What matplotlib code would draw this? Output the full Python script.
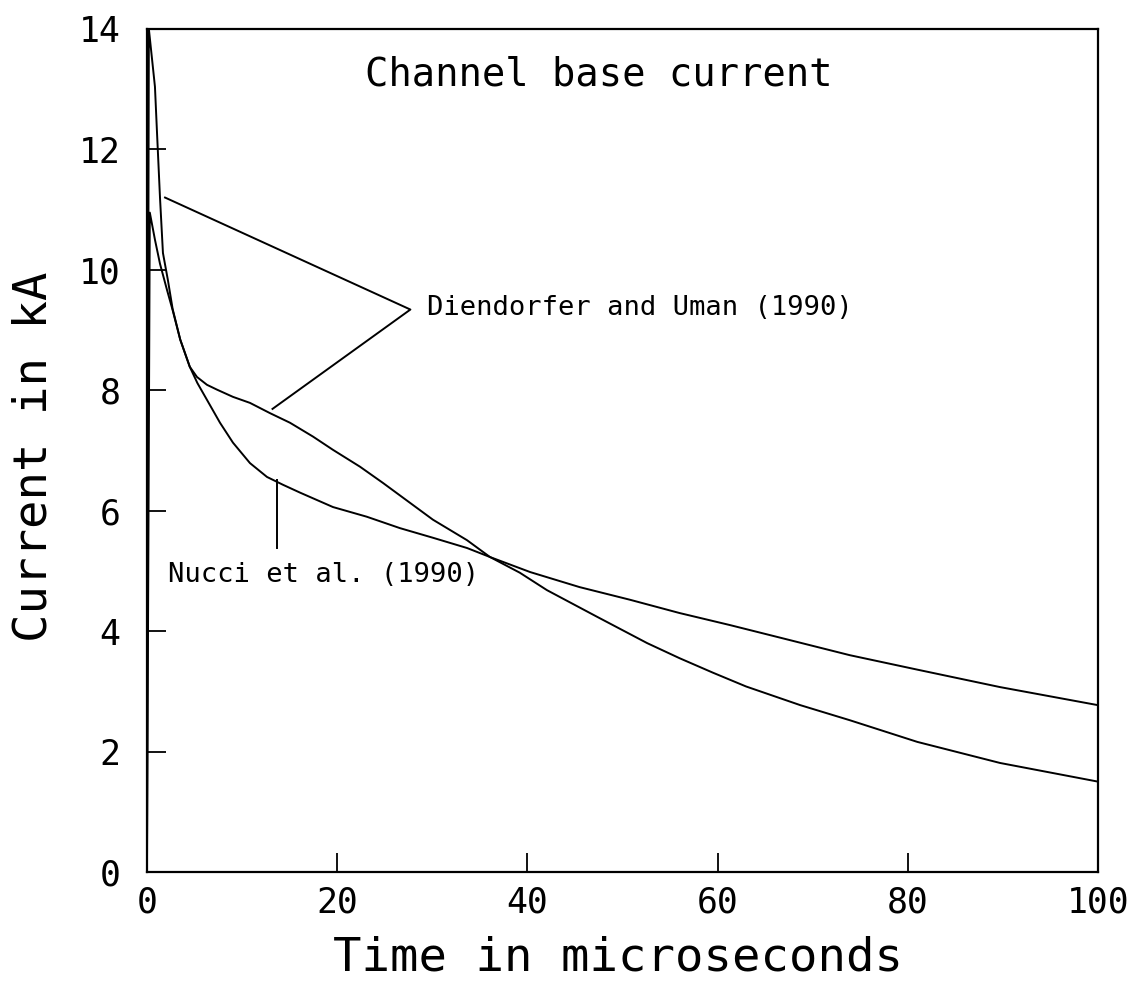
import numpy as np
import matplotlib.pyplot as plt

# Channel base current curves (time in us, current in kA)
t_diendorfer = [0, 0.2, 0.84, 1.05, 1.37, 1.68, 2.2, 2.7, 3.5, 4.5, 5.26, 6.31, 7.36,
                9.04, 10.83, 12.93, 15.04, 17.46, 19.56, 22.4, 24.82, 27.66, 30.07,
                33.65, 36.07, 39.2, 42.06, 47.3, 52.6, 56.0, 59.5, 63.0, 68.7, 73.9,
                81.0, 89.7, 100]
i_diendorfer = [0, 14.0, 13.04, 12.3, 11.2, 10.28, 9.83, 9.35, 8.84, 8.39, 8.22, 8.09, 8.01,
                7.89, 7.79, 7.62, 7.46, 7.23, 7.01, 6.73, 6.46, 6.13, 5.85,
                5.51, 5.23, 4.97, 4.68, 4.24, 3.80, 3.55, 3.31, 3.08, 2.77, 2.52,
                2.16, 1.81, 1.50]

t_nucci = [0, 0.3, 0.84, 1.37, 2.1, 2.7, 3.5, 4.5, 5.3, 6.31, 7.68, 9.04, 10.83, 12.62,
           14.3, 16.09, 19.56, 23.1, 26.6, 30.07, 33.65, 36.07, 40.3, 45.5, 50.8, 56.0,
           61.3, 66.6, 73.9, 81.0, 89.7, 100]
i_nucci = [0, 10.95, 10.5, 10.1, 9.67, 9.33, 8.84, 8.39, 8.12, 7.84, 7.46, 7.13, 6.79, 6.56,
           6.43, 6.30, 6.06, 5.90, 5.71, 5.55, 5.38, 5.23, 4.98, 4.73, 4.52, 4.30,
           4.10, 3.89, 3.60, 3.36, 3.07, 2.77]

x_ticks = [0, 20, 40, 60, 80, 100]
y_ticks = [0, 2, 4, 6, 8, 10, 12, 14]

plt.rcParams['font.family'] = ['DejaVu Sans Mono']

fig = plt.figure(figsize=(11.41, 9.98), dpi=100)
ax = fig.add_axes([0.1288, 0.1263, 0.8335, 0.8447])

ax.plot(t_diendorfer, i_diendorfer, color='black', lw=1.4)
ax.plot(t_nucci, i_nucci, color='black', lw=1.4)

# annotation pointers
ax.plot([1.9, 27.7, 13.2], [11.2, 9.34, 7.69], color='black', lw=1.4)
ax.plot([13.7, 13.7], [6.51, 5.38], color='black', lw=1.4)
ax.text(29.4, 9.37, 'Diendorfer and Uman (1990)', fontsize=19.5, ha='left', va='center')
ax.text(2.2, 4.93, 'Nucci et al. (1990)', fontsize=19.5, ha='left', va='center')
ax.text(47.5, 13.24, 'Channel base current', fontsize=28, ha='center', va='center')

ax.set_xlim(0, 100)
ax.set_ylim(0, 14)
ax.set_xticks(x_ticks)
ax.set_yticks(y_ticks)
ax.tick_params(direction='in', length=14, width=1.3, labelsize=25)
ax.tick_params(axis='y', pad=19)
ax.tick_params(axis='x', pad=10)
for s in ax.spines.values():
    s.set_linewidth(1.6)

ax.set_xlabel('Time in microseconds', fontsize=34, va='center')
ax.xaxis.set_label_coords(0.495, -0.102)
ax.set_ylabel('Current in kA', fontsize=34, va='center')
ax.yaxis.set_label_coords(-0.119, 0.493)

fig.savefig('out.png', dpi=100)
